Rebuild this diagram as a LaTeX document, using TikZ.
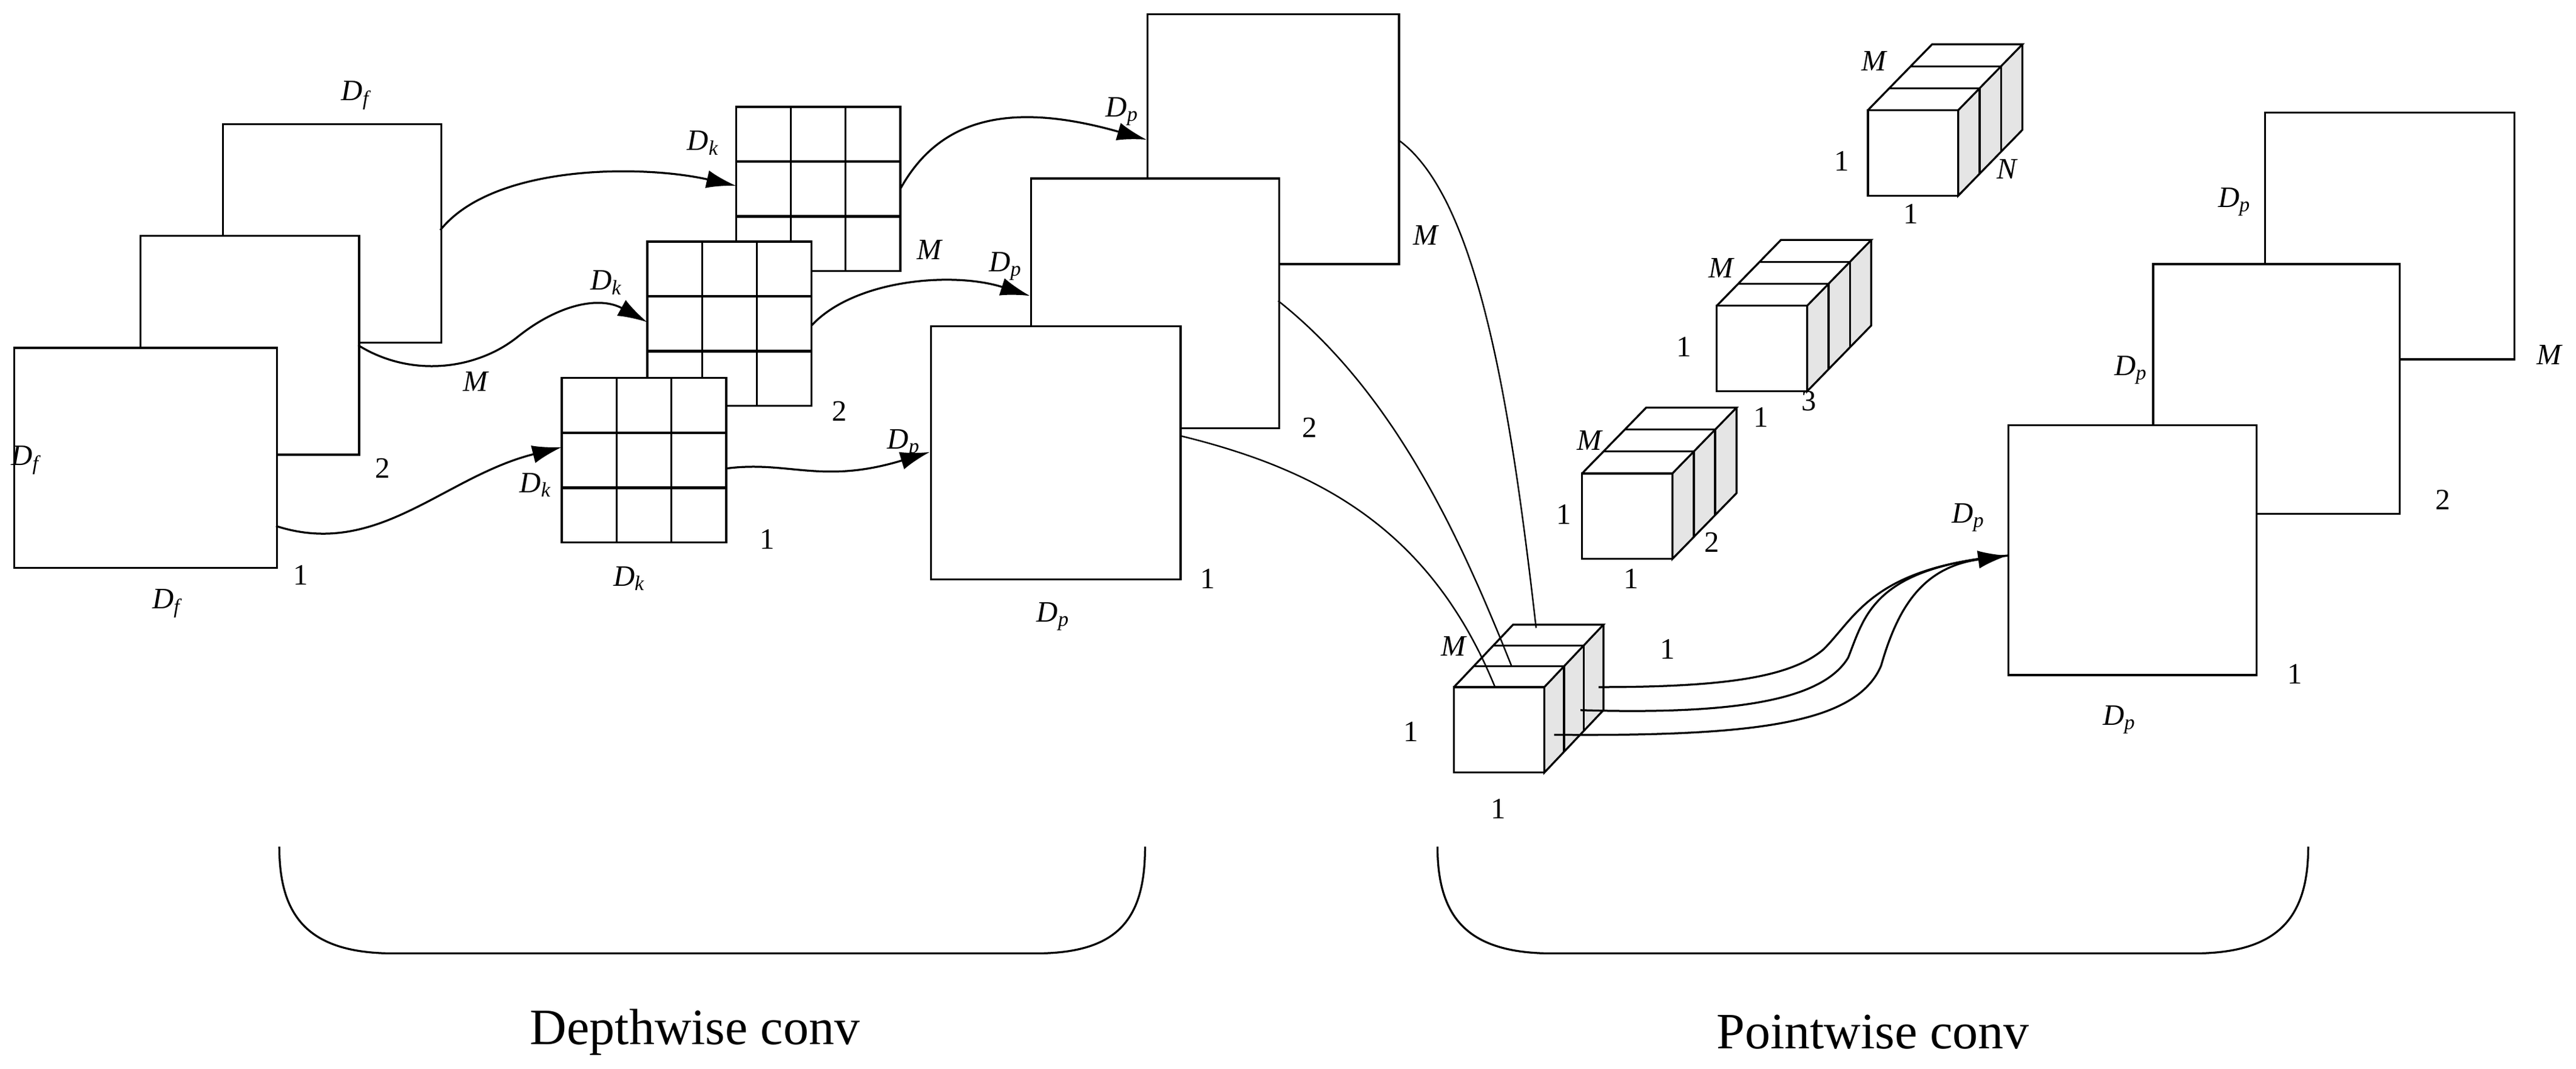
\documentclass[tikz,border=0pt]{standalone}
\usepackage{fontspec}
\setmainfont{Liberation Serif}
\usetikzlibrary{arrows.meta}
\newcommand\Dsub[1]{\textit{D}\textsubscript{\textit{#1}}}
\newcommand\mycubeX[6]{% x,y(top-left front),w,h,dx,dy
  \fill[gray!20] (#1+#3,#2) -- (#1+#3,#2+#4) -- (#1+#3+#5,#2+#4-#6) -- (#1+#3+#5,#2-#6) -- cycle;
  \draw[fill=white] (#1,#2) rectangle (#1+#3,#2+#4);
  \draw (#1,#2) -- (#1+#5,#2-#6) -- (#1+#3+#5,#2-#6) -- (#1+#3,#2);
  \draw (#1+#3+#5,#2-#6) -- (#1+#3+#5,#2+#4-#6) -- (#1+#3,#2+#4) -- (#1+#3,#2);
  \foreach \k in {1,2}{
    \draw (#1+\k*#5/3,#2-\k*#6/3) -- (#1+#3+\k*#5/3,#2-\k*#6/3) -- (#1+#3+\k*#5/3,#2+#4-\k*#6/3);}
}
\newcommand\mygrid[3]{% x y s
  \draw[fill=white] (#1,#2) rectangle (#1+#3,#2+#3);
  \foreach \k in {1,2}{
    \draw (#1+\k*#3/3,#2) -- (#1+\k*#3/3,#2+#3);
    \draw[line width=1.6pt] (#1,#2+\k*#3/3) -- (#1+#3,#2+\k*#3/3);}
}
\begin{document}
\begin{tikzpicture}[x=1pt,y=-1pt,line width=1.2pt,
  lab/.style={font=\fontsize{18}{20}\selectfont,inner sep=0pt},
  sq/.style={draw,fill=white,anchor=north west,inner sep=0pt},
  arr/.style={-{Latex[length=18pt,width=11pt]}},
  big/.style={font=\fontsize{31}{35}\selectfont}]
\useasboundingbox (0,0) rectangle (1568,650);
% left stack
\node[sq,minimum width=133pt,minimum height=133pt] (f3) at (135,75) {};
\node[sq,minimum width=133pt,minimum height=133pt] (f2) at (85,143) {};
\node[sq,minimum width=160pt,minimum height=134pt] (f1) at (8,211) {};
\node[lab] (l1) at (217,58) {\Dsub{f}};
\node[lab] (l2) at (16,280) {\Dsub{f}};
\node[lab] (l3) at (102,367) {\Dsub{f}};
\node[lab] (l4) at (183,350) {1};
\node[lab] (l5) at (233,285) {2};
\node[lab] (l6) at (290,232) {\textit{M}};
% grids
\mygrid{448}{65}{100}
\mygrid{394}{147}{100}
\mygrid{342}{230}{100}
\node[lab] (g1) at (428,87) {\Dsub{k}};
\node[lab] (g2) at (566,152) {\textit{M}};
\node[lab] (g3) at (369,172) {\Dsub{k}};
\node[lab] (g4) at (511,250) {2};
\node[lab] (g5) at (326,295) {\Dsub{k}};
\node[lab] (g6) at (467,328) {1};
\node[lab] (g7) at (383,352) {\Dsub{k}};
% depthwise outputs
\node[sq,minimum width=153pt,minimum height=152pt] (p3) at (698,8) {};
\node[sq,minimum width=151pt,minimum height=152pt] (p2) at (627,108) {};
\node[sq,minimum width=152pt,minimum height=154pt] (p1) at (566,198) {};
\node[lab] (q1) at (683,68) {\Dsub{p}};
\node[lab] (q2) at (868,143) {\textit{M}};
\node[lab] (q3) at (612,162) {\Dsub{p}};
\node[lab] (q4) at (797,260) {2};
\node[lab] (q5) at (550,270) {\Dsub{p}};
\node[lab] (q6) at (735,352) {1};
\node[lab] (q7) at (641,375) {\Dsub{p}};
% arrows depthwise
\coordinate (a1s) at (268,140); \coordinate (a1e) at (448,113);
\coordinate (a2s) at (218,210); \coordinate (a2e) at (394,196);
\coordinate (a3s) at (168,320); \coordinate (a3e) at (342,272);
\coordinate (b1s) at (548,115); \coordinate (b1e) at (698,85);
\coordinate (b2s) at (494,198); \coordinate (b2e) at (627,180);
\coordinate (b3s) at (442,285); \coordinate (b3e) at (566,275);
\draw[arr] (a1s) .. controls (300,100) and (390,100) .. (a1e);
\draw[arr] (a2s) .. controls (250,230) and (290,225) .. (315,205) .. controls (340,185) and (365,180) .. (a2e);
\draw[arr] (a3s) .. controls (230,340) and (270,290) .. (a3e);
\draw[arr] (b1s) .. controls (570,75) and (610,60) .. (b1e);
\draw[arr] (b2s) .. controls (520,170) and (580,165) .. (b2e);
\draw[arr] (b3s) .. controls (480,280) and (500,295) .. (b3e);
% pointwise cubes
\mycubeX{885}{418}{55}{52}{36}{38}
\node[lab] (c1) at (885,393) {\textit{M}};
\node[lab] (c2) at (859,445) {1};
\node[lab] (c3) at (912,492) {1};
\node[lab] (c4) at (1015,395) {1};
\coordinate (d1s) at (851,85); \coordinate (d1e) at (935,382);
\coordinate (d2s) at (778,183); \coordinate (d2e) at (920,405);
\coordinate (d3s) at (718,265); \coordinate (d3e) at (910,418);
\draw[line width=0.9pt] (d1s) .. controls (900,120) and (920,250) .. (d1e);
\draw[line width=0.9pt] (d2s) .. controls (850,240) and (890,330) .. (d2e);
\draw[line width=0.9pt] (d3s) .. controls (800,285) and (870,320) .. (d3e);
\mycubeX{963}{288}{55}{52}{39}{40}
\node[lab] at (968,268) {\textit{M}};
\node[lab] at (952,313) {1};
\node[lab] at (993,352) {1};
\node[lab] at (1042,330) {2};
\mycubeX{1045}{186}{55}{52}{39}{40}
\node[lab] at (1048,163) {\textit{M}};
\node[lab] at (1025,211) {1};
\node[lab] at (1072,254) {1};
\node[lab] at (1101,244) {3};
\mycubeX{1137}{67}{55}{52}{39}{40}
\node[lab] at (1141,37) {\textit{M}};
\node[lab] at (1121,98) {1};
\node[lab] at (1163,130) {1};
\node[lab] at (1222,103) {\textit{N}};
% right stack
\node[sq,minimum width=152pt,minimum height=150pt] (r3) at (1378,68) {};
\node[sq,minimum width=150pt,minimum height=152pt] (r2) at (1310,160) {};
\node[sq,minimum width=151pt,minimum height=152pt] (r1) at (1222,258) {};
\node[lab] at (1360,123) {\Dsub{p}};
\node[lab] at (1552,216) {\textit{M}};
\node[lab] at (1297,225) {\Dsub{p}};
\node[lab] at (1487,304) {2};
\node[lab] at (1198,315) {\Dsub{p}};
\node[lab] at (1397,410) {1};
\node[lab] at (1290,438) {\Dsub{p}};
\coordinate (e1s) at (973,418); \coordinate (e2s) at (962,432); \coordinate (e3s) at (946,447);
\coordinate (ee) at (1222,338);
\draw (e1s) .. controls (1050,418) and (1090,412) .. (1110,395) .. controls (1130,375) and (1140,345) .. (ee);
\draw (e2s) .. controls (1060,435) and (1110,425) .. (1125,400) .. controls (1135,375) and (1140,345) .. (ee);
\draw[arr] (e3s) .. controls (1070,448) and (1130,440) .. (1145,405) .. controls (1155,370) and (1170,345) .. (ee);
% braces
\draw (170,515) .. controls (170,560) and (190,580) .. (240,580) -- (630,580) .. controls (680,580) and (697,560) .. (697,515);
\draw (875,515) .. controls (875,560) and (895,580) .. (945,580) -- (1335,580) .. controls (1385,580) and (1405,560) .. (1405,515);
\node[big] (t1) at (423,628) {Depthwise conv};
\node[big] (t2) at (1140,628) {Pointwise conv};
\end{tikzpicture}
\end{document}
